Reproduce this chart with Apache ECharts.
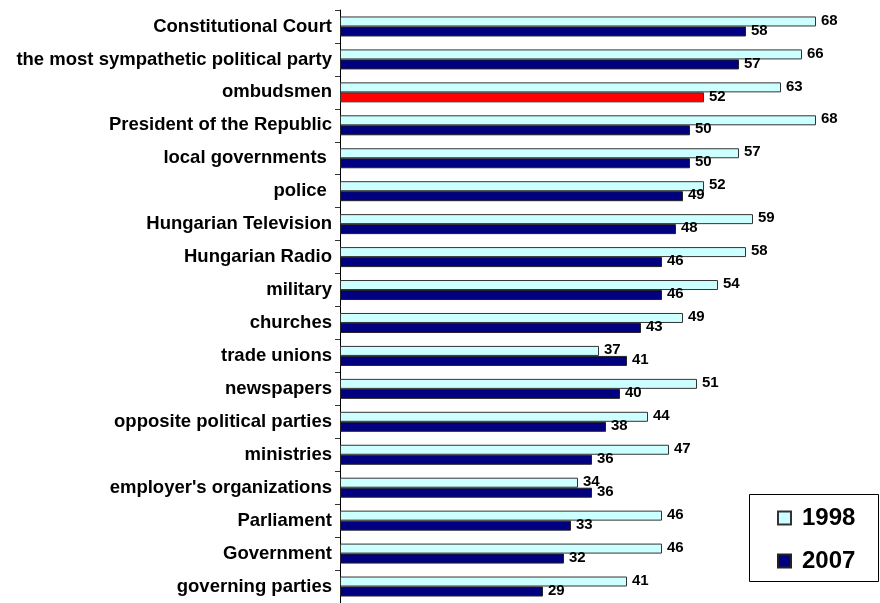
<!DOCTYPE html>
<html>
<head>
<meta charset="utf-8">
<title>Trust in institutions, 1998 and 2007</title>
<script src="https://cdn.jsdelivr.net/npm/echarts@6/dist/echarts.min.js"></script>
<style>
  html, body { margin: 0; padding: 0; background: #fff; }
  #chart { width: 880px; height: 603px; }
</style>
</head>
<body>
<div id="chart"></div>
<script>
// Institutions, listed top to bottom
const categories = [
  'Constitutional Court',
  'the most sympathetic political party',
  'ombudsmen',
  'President of the Republic',
  'local governments ',
  'police ',
  'Hungarian Television',
  'Hungarian Radio',
  'military',
  'churches',
  'trade unions',
  'newspapers',
  'opposite political parties',
  'ministries',
  "employer's organizations",
  'Parliament',
  'Government',
  'governing parties'
];

const values1998 = [68, 66, 63, 68, 57, 52, 59, 58, 54, 49, 37, 51, 44, 47, 34, 46, 46, 41];
const values2007 = [58, 57, 52, 50, 50, 49, 48, 46, 46, 43, 41, 40, 38, 36, 36, 33, 32, 29];

const seriesNames = ['1998', '2007'];
const highlighted = 'ombudsmen';

const FONT = '"Liberation Sans", Arial, Helvetica, sans-serif';
const COLOR_1998 = '#CCFFFF';
const COLOR_2007 = '#000080';
const COLOR_HIGHLIGHT = '#FF0000';

const chart = echarts.init(document.getElementById('chart'), null, { renderer: 'canvas' });

const valueLabel = {
  show: true,
  position: 'right',
  distance: 5,
  offset: [0, -1],
  color: '#000',
  fontFamily: FONT,
  fontSize: 15,
  fontWeight: 'bold'
};

const data2007 = values2007.map((v, i) =>
  categories[i] === highlighted
    ? { value: v, itemStyle: { color: COLOR_HIGHLIGHT, borderColor: '#333' } }
    : v
);

chart.setOption({
  animation: false,
  backgroundColor: '#fff',
  grid: { left: 340, right: 8, top: 10, bottom: 0, containLabel: false },
  xAxis: {
    type: 'value',
    min: 0,
    max: 76,
    show: false
  },
  yAxis: {
    type: 'category',
    data: categories,
    inverse: true,
    axisLine: { show: true, lineStyle: { color: '#000', width: 1 } },
    axisTick: { show: true, length: 5, lineStyle: { color: '#333', width: 1 } },
    splitLine: { show: false },
    axisLabel: {
      margin: 8,
      color: '#000',
      fontFamily: FONT,
      fontSize: 18.5,
      fontWeight: 'bold'
    }
  },
  legend: {
    data: seriesNames,
    orient: 'vertical',
    left: 777,
    top: 506,
    padding: 0,
    itemWidth: 13,
    itemHeight: 13,
    itemGap: 19,
    icon: 'rect',
    textStyle: {
      color: '#000',
      fontFamily: FONT,
      fontSize: 24,
      fontWeight: 'bold',
      lineHeight: 24,
      padding: [0, 0, 0, 6]
    }
  },
  graphic: [{
    type: 'rect',
    left: 749,
    top: 494,
    shape: { width: 129, height: 87 },
    style: { fill: '#fff', stroke: '#000', lineWidth: 1 },
    z: -1,
    silent: true
  }],
  series: [
    {
      name: seriesNames[0],
      type: 'bar',
      data: values1998,
      barWidth: 10,
      barGap: '0%',
      itemStyle: { color: COLOR_1998, borderColor: '#333', borderWidth: 1 },
      label: valueLabel
    },
    {
      name: seriesNames[1],
      type: 'bar',
      data: data2007,
      barWidth: 10,
      barGap: '0%',
      itemStyle: { color: COLOR_2007, borderColor: '#222', borderWidth: 1 },
      label: valueLabel
    }
  ]
});
</script>
</body>
</html>
